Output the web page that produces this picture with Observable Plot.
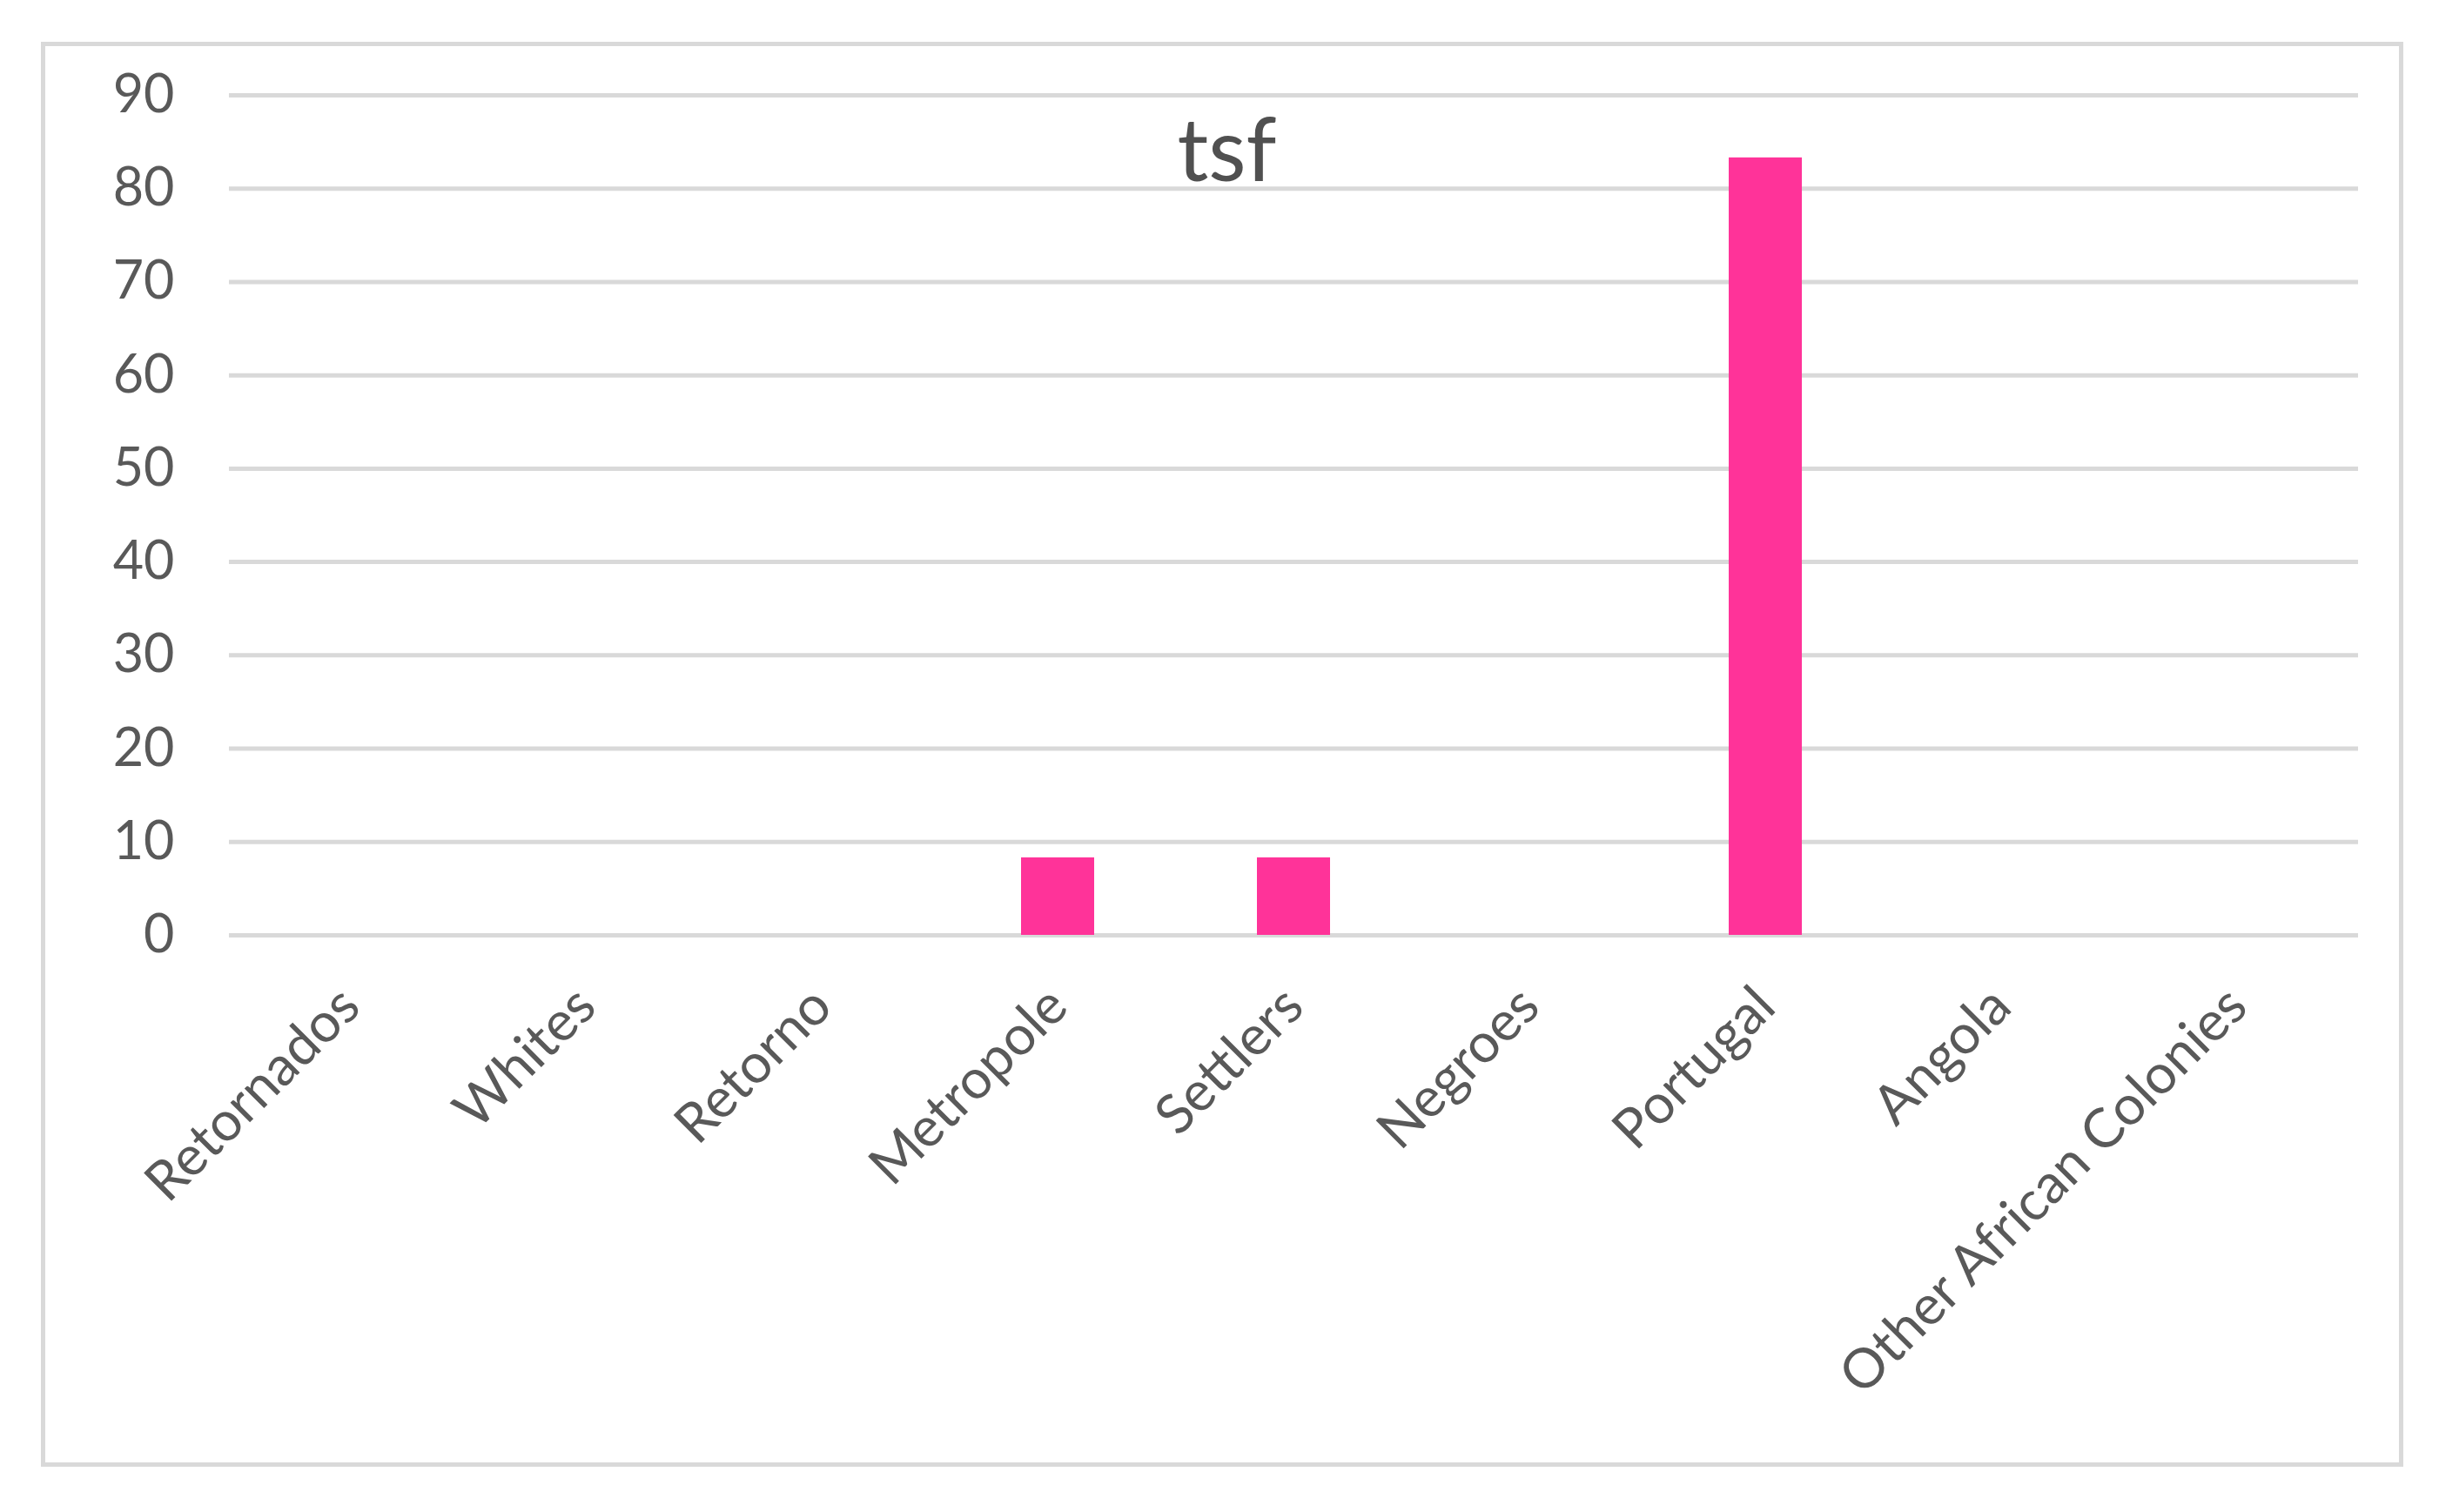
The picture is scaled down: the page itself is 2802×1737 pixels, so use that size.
<!DOCTYPE html>
<html>
<head>
<meta charset="utf-8">
<script src="https://cdn.jsdelivr.net/npm/d3@7"></script>
<script src="https://cdn.jsdelivr.net/npm/@observablehq/plot@0.6"></script>
<style>
  html, body { margin: 0; padding: 0; background: #ffffff; }
  #wrap { position: relative; width: 2802px; height: 1737px; overflow: hidden; }
  #border { position: absolute; left: 47px; top: 48px; width: 2714px; height: 1637px;
            border: 5px solid #d9d9d9; box-sizing: border-box; pointer-events: none; }
</style>
</head>
<body>
<div id="wrap"><div id="border"></div></div>
<script>
const title = "tsf";
const categories = ["Retornados", "Whites", "Retorno", "Metropole", "Settlers", "Negroes", "Portugal", "Angola", "Other African Colonies"];
const values = [0, 0, 0, 8.3, 8.3, 0, 83.3, 0, 0];
const yTicks = [0, 10, 20, 30, 40, 50, 60, 70, 80, 90];

const data = categories.map((c, i) => ({category: c, value: values[i]}));

const chart = Plot.plot({
  width: 2802,
  height: 1737,
  marginLeft: 263,
  marginRight: 93,
  marginTop: 109,
  marginBottom: 663,
  style: {fontFamily: "Lato, 'Open Sans', sans-serif", color: "#595959", background: "transparent"},
  x: {domain: categories, paddingInner: 0.69, paddingOuter: 0.345, label: null},
  y: {domain: [0, 90], label: null},
  marks: [
    Plot.ruleY(yTicks, {stroke: "#d9d9d9", strokeWidth: 5}),
    Plot.barY(data, {x: "category", y: "value", fill: "#FF3399"}),
    Plot.axisY({ticks: yTicks, tickSize: 0, tickPadding: 63, fontSize: 61, label: null}),
    Plot.axisX({tickRotate: -45, tickSize: 0, tickPadding: 71, fontSize: 63, label: null}),
    Plot.text([title], {frameAnchor: "top", dx: -77, dy: 98, fontSize: 100, fill: "#505050", lineAnchor: "bottom"})
  ]
});
document.getElementById("wrap").prepend(chart);
</script>
</body>
</html>
